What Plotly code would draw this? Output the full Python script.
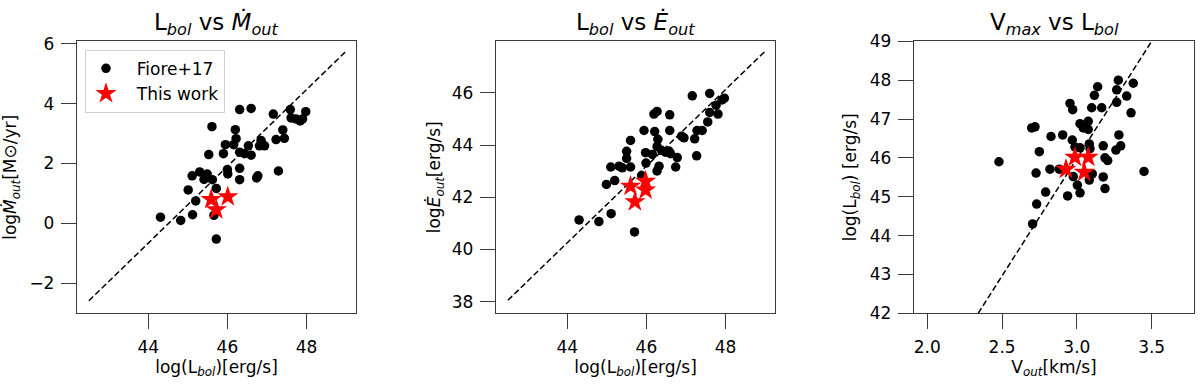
import plotly.graph_objects as go
from plotly.subplots import make_subplots

#Fiore+17 sample, panel 1 (Lbol vs Mdot)
fiore_lbol_1 = [46.31, 46.60, 47.16, 47.59, 47.98, 47.61, 47.73, 47.84, 47.90, 45.61, 46.20, 47.40, 46.22, 45.95, 46.16,
                46.53, 46.85, 46.81, 46.94, 47.23, 47.44, 45.53, 45.90, 46.31, 46.43, 46.60, 47.29, 46.31, 46.00, 45.30,
                45.11, 45.49, 45.41, 45.62, 46.01, 46.31, 46.74, 46.77, 45.01, 45.72, 45.20, 44.82, 45.12, 45.66, 45.72, 44.31]
fiore_mdot = [3.80, 3.84, 3.65, 3.80, 3.73, 3.52, 3.49, 3.42, 3.49, 3.23, 3.13, 3.12, 2.83, 2.63, 2.63,
              2.59, 2.77, 2.59, 2.59, 2.80, 2.84, 2.30, 2.33, 2.38, 2.33, 2.28, 1.75, 1.84, 1.80, 1.72,
              1.59, 1.65, 1.47, 1.46, 1.65, 1.46, 1.52, 1.59, 1.12, 1.17, 0.75, 0.10, 0.29, 0.27, -0.52, 0.21]
this_lbol_1 = [45.59, 46.01, 45.72]
this_mdot = [0.80, 0.89, 0.46]

#panel 2 (Lbol vs Edot)
fiore_lbol_2 = [47.16, 47.60, 47.97, 47.91, 47.76, 47.60, 47.81, 46.19, 46.27, 46.59, 47.55, 47.28, 47.41, 45.94, 46.21,
                46.59, 46.89, 46.95, 47.22, 45.60, 46.29, 46.27, 45.50, 45.98, 46.15, 46.38, 46.48, 46.57, 46.61, 45.50,
                46.78, 47.27, 45.10, 45.31, 45.39, 45.60, 45.99, 46.32, 46.27, 46.74, 45.20, 44.99, 45.88, 44.30, 44.80,
                45.11, 45.70]
fiore_edot = [45.89, 45.98, 45.80, 45.73, 45.53, 45.25, 45.19, 45.19, 45.29, 45.16, 44.89, 44.56, 44.56, 44.56, 44.52,
              44.56, 44.34, 44.28, 44.24, 44.18, 44.22, 43.94, 43.76, 43.71, 43.64, 43.80, 43.73, 43.77, 43.67, 43.49,
              43.52, 43.59, 43.16, 43.19, 43.13, 43.16, 43.31, 43.19, 43.01, 43.16, 42.64, 42.49, 42.83, 41.13, 41.07,
              41.37, 40.67]
this_lbol_2 = [45.60, 45.98, 45.98, 45.71]
this_edot = [42.42, 42.62, 42.28, 41.83]

#panel 3 (Vout vs Lbol)
fiore_vout = [2.479, 2.698, 2.720, 2.749, 2.727, 2.827, 2.820, 2.905, 2.882, 2.954, 2.972, 2.969, 2.987, 3.021, 3.043,
              3.076, 3.076, 3.021, 3.083, 3.088, 2.976, 3.003, 2.938, 3.083, 3.103, 3.099, 3.166, 3.139, 3.117, 3.176,
              3.188, 3.206, 3.176, 3.188, 3.277, 3.266, 3.333, 3.377, 3.266, 3.362, 3.281, 3.293, 3.261, 3.449, 2.791,
              2.731, 2.704, 3.021]
fiore_lbol_3 = [45.90, 46.77, 46.80, 46.16, 45.61, 46.55, 45.71, 46.59, 45.71, 47.40, 47.24, 46.46, 46.28, 46.88, 46.77,
                46.73, 46.94, 46.26, 46.36, 46.24, 45.52, 45.30, 45.02, 45.43, 45.59, 47.29, 47.29, 47.83, 47.61, 46.31,
                46.00, 45.93, 45.51, 45.21, 48.00, 47.75, 47.59, 47.92, 47.43, 47.16, 46.59, 46.31, 46.20, 45.65, 45.12,
                44.81, 44.30, 45.10]
this_vout = [2.987, 3.076, 2.927, 3.049]
this_lbol_3 = [46.02, 46.02, 45.71, 45.63]

#fit lines (end points)
fit_x_1 = [42.5, 49.0]
fit_y_1 = [-2.58, 5.75]
fit_x_2 = [42.5, 49.0]
fit_y_2 = [38.05, 47.6]
fit_x_3 = [2.34, 3.50]
fit_y_3 = [42.0, 49.0]

font_family = "DejaVu Sans"
axis_color = '#3a3a3a'
W, H = 1200, 384

def px_x(p):
    return p / W

def px_y(p):
    return 1 - p / H

fig = make_subplots(rows=1, cols=3)

panels = [
    (fiore_lbol_1, fiore_mdot, this_lbol_1, this_mdot, fit_x_1, fit_y_1),
    (fiore_lbol_2, fiore_edot, this_lbol_2, this_edot, fit_x_2, fit_y_2),
    (fiore_vout, fiore_lbol_3, this_vout, this_lbol_3, fit_x_3, fit_y_3),
]
for i, (fx, fy, tx, ty, lx, ly) in enumerate(panels):
    col = i + 1
    fig.add_trace(go.Scatter(x=lx, y=ly, mode='lines', line=dict(color='black', width=1.5, dash='6px,3px'),
                             showlegend=False, hoverinfo='skip'), row=1, col=col)
    fig.add_trace(go.Scatter(x=fx, y=fy, mode='markers', name='\u00a0\u00a0Fiore+17', showlegend=(i == 0),
                             marker=dict(color='black', size=9.5, line=dict(width=0))), row=1, col=col)
    fig.add_trace(go.Scatter(x=tx, y=ty, mode='markers', name='\u00a0\u00a0This work', showlegend=(i == 0),
                             marker=dict(color='red', size=16, symbol='star', line=dict(width=0))), row=1, col=col)

#axis layout, matplotlib-like boxes
y0, y1 = px_y(320), px_y(33)
domains = [(px_x(77), px_x(356)), (px_x(496), px_x(775)), (px_x(914), px_x(1194))]
xranges = [[42.2, 49.25], [42.2, 49.25], [1.911, 3.783]]
yranges = [[-3.0, 6.08], [37.55, 47.98], [42.0, 49.0]]
xticks = [[44, 46, 48], [44, 46, 48], [2.0, 2.5, 3.0, 3.5]]
yticks = [[-2, 0, 2, 4, 6], [38, 40, 42, 44, 46], [42, 43, 44, 45, 46, 47, 48, 49]]
xfmt = ['d', 'd', '.1f']
ystand = [8, 6, 8]
xtitles = ['log(L<sub><i>bol</i></sub>)[erg/s]', 'log(L<sub><i>bol</i></sub>)[erg/s]', 'V<sub><i>out</i></sub>[km/s]']
ytitles = ['log<i>Ṁ</i><sub><i>out</i></sub>[M⊙/yr]', 'log<i>Ė</i><sub><i>out</i></sub>[erg/s]',
           'log(L<sub><i>bol</i></sub>) [erg/s]']
titles = ['L<sub><i>bol</i></sub> vs <i>Ṁ</i><sub><i>out</i></sub>', 'L<sub><i>bol</i></sub> vs <i>Ė</i><sub><i>out</i></sub>',
          'V<sub><i>max</i></sub> vs L<sub><i>bol</i></sub>']

common = dict(showline=True, mirror=True, linecolor=axis_color, linewidth=1.3, ticks='outside', ticklen=15,
              tickwidth=1.3, tickcolor=axis_color, showgrid=False, zeroline=False, ticklabelstandoff=3,
              tickfont=dict(size=17, color='black'))
for i in range(3):
    n = '' if i == 0 else str(i + 1)
    fig.layout['xaxis' + n].update(domain=list(domains[i]), range=xranges[i], tickvals=xticks[i],
                                   tickformat=xfmt[i], title=dict(text=xtitles[i], font=dict(size=17), standoff=2),
                                   **common)
    fig.layout['yaxis' + n].update(domain=[y0, y1], range=yranges[i], tickvals=yticks[i],
                                   title=dict(text=ytitles[i], font=dict(size=17), standoff=ystand[i]), **common)
    fig.add_annotation(text=titles[i], xref='paper', yref='paper', x=sum(domains[i]) / 2, y=y1,
                       xanchor='center', yanchor='bottom', yshift=0, showarrow=False,
                       font=dict(size=23, color='black'))

fig.update_layout(width=W, height=H, margin=dict(l=0, r=0, t=0, b=0),
                  plot_bgcolor='white', paper_bgcolor='white',
                  font=dict(family=font_family, color='black'),
                  legend=dict(x=px_x(85), y=px_y(42), xanchor='left', yanchor='top',
                              bgcolor='rgba(255,255,255,0.8)', bordercolor='#d0d0d0', borderwidth=1,
                              font=dict(size=17), itemsizing='trace', tracegroupgap=2))

#drop the default 8px body margin so the figure sits at the page origin, no modebar
fig.write_html("out.html", config={'displayModeBar': False},
               post_script="document.body.style.margin='0';")
